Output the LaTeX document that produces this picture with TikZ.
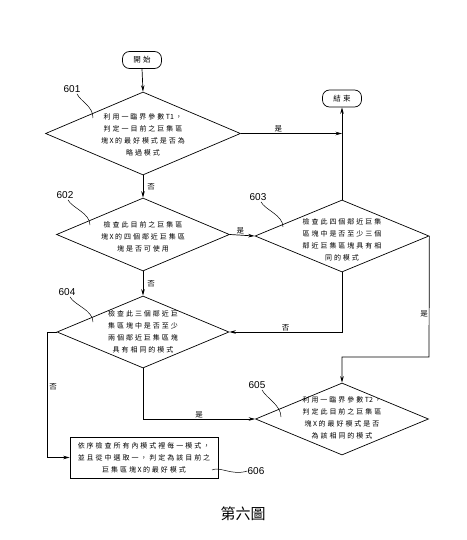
\documentclass[tikz,border=0pt]{standalone}
\usepackage{fontspec}
\setmainfont{Liberation Sans}
\newfontfamily\cjk[LetterSpace=28]{Noto Sans CJK TC}
\newfontfamily\cjkn{Noto Sans CJK TC}
\newfontfamily\cjkcap{Noto Sans CJK TC}
\newcommand\lat[1]{\hspace{1.5pt}{\cjkn #1}\hspace{1.5pt}}
\usetikzlibrary{shapes.geometric,arrows.meta}
\begin{document}
\begin{tikzpicture}[x=1pt,y=-1pt,
  line width=0.7pt,
  dia/.style={diamond, draw, inner sep=0pt},
  txt/.style={align=center, font=\cjk\fontsize{7}{12}\selectfont, inner sep=0pt},
  term/.style={draw, rounded corners=7pt, minimum width=39pt, minimum height=17pt, inner sep=0pt, font=\cjk\fontsize{7.5}{9}\selectfont},
  arr/.style={-{Stealth[length=6.5pt,width=3.5pt]}},
  lab/.style={font=\cjk\fontsize{7.5}{9}\selectfont, inner sep=1pt},
  num/.style={font=\fontsize{10}{11}\selectfont, inner sep=0pt},
  lead/.style={line width=0.5pt}
]
\useasboundingbox (0,0) rectangle (466,540);

% terminals
\node[term] (start) at (142,60) {開始};
\node[term] (end) at (342,98.5) {結束};

% decisions
\node[dia, minimum width=195pt, minimum height=83pt] (d601) at (143,133.5) {};
\node[txt] (t601) at (143,134.5) {利用一臨界參數\lat{T1}，\\判定一目前之巨集區\\塊\lat{X}的最好模式是否為\\略過模式};

\node[dia, minimum width=173pt, minimum height=73pt] (d602) at (143,234.5) {};
\node[txt] (t602) at (143,237) {檢查此目前之巨集區\\塊\lat{X}的四個鄰近巨集區\\塊是否可使用};

\node[dia, minimum width=174pt, minimum height=72pt] (d603) at (342,236) {};
\node[txt] (t603) at (342,239.5) {檢查此四個鄰近巨集\\區塊中是否至少三個\\鄰近巨集區塊具有相\\同的模式};

\node[dia, minimum width=172pt, minimum height=72pt] (d604) at (143,332) {};
\node[txt] (t604) at (143,332) {檢查此三個鄰近巨\\集區塊中是否至少\\兩個鄰近巨集區塊\\具有相同的模式};

\node[dia, minimum width=173pt, minimum height=72pt] (d605) at (342,419) {};
\node[txt] (t605) at (342,418) {利用一臨界參數\lat{T2}，\\判定此目前之巨集區\\塊\lat{X}的最好模式是否\\為該相同的模式};

% process box
\node[draw, minimum width=148pt, minimum height=41pt, inner sep=0pt] (b606) at (144,457.5) {};
\node[txt] (t606) at (144,457.5) {依序檢查所有內模式裡每一模式，\\並且從中選取一，判定為該目前之\\巨集區塊\lat{X}的最好模式};

% connectors
\coordinate (c1) at (429,357);
\coordinate (c2) at (47,332);
\draw[arr] (start.south) -- (d601.north);
\draw[arr] (d601.east) -- (d601.east -| end.south) node[lab, pos=0.37, above] (y1) {是};
\draw[arr] (d603.north) -- (end.south);
\draw[arr] (d601.south) -- (d602.north) node[lab, midway, right, xshift=3pt] (n1) {否};
\draw[arr] (d602.east) -- (d603.west) node[lab, midway, above, xshift=-2pt] (y2) {是};
\draw[arr] (d602.south) -- (d604.north) node[lab, midway, right, xshift=3pt] (n2) {否};
\draw[arr] (d603.south) |- (d604.east) node[lab, pos=0.75, above] (n3) {否};
\draw[arr] (d603.east) -- node[lab, left, pos=0.64] (y3) {是} (c1) -| (d605.north);
\draw[arr] (d604.south) |- (d605.west) node[lab, pos=0.75, above] (y4) {是};
\draw[arr] (d604.west) -- (c2) |- (b606.west) node[lab, pos=0.22, right, xshift=1pt] (n4) {否};

% reference numbers and leaders
\node[num] (n601) at (72,89) {601};
\node[num] (n602) at (65,195) {602};
\node[num] (n603) at (258,197) {603};
\node[num] (n604) at (67,292) {604};
\node[num] (n605) at (257,385) {605};
\node[num] (n606) at (256,471) {606};
\draw[lead] (n601.south) ++(5,1) .. controls +(4,8) and +(0,-12) .. (93,118);
\draw[lead] (n602.south) ++(3,1) .. controls +(4,8) and +(0,-12) .. (90,225);
\draw[lead] (n603.south) ++(3,1) .. controls +(4,8) and +(0,-12) .. (283,227);
\draw[lead] (n604.south) ++(3,1) .. controls +(4,8) and +(0,-12) .. (93,322);
\draw[lead] (n605.south) ++(5,1) .. controls +(4,8) and +(0,-12) .. (281,417);
\draw[lead] (212,470) .. controls (220,466) and (232,476) .. (n606.west);

% caption
\node[font=\cjkcap\fontsize{15}{16}\selectfont, inner sep=0pt] (cap) at (243,514) {第六圖};
\end{tikzpicture}
\end{document}
